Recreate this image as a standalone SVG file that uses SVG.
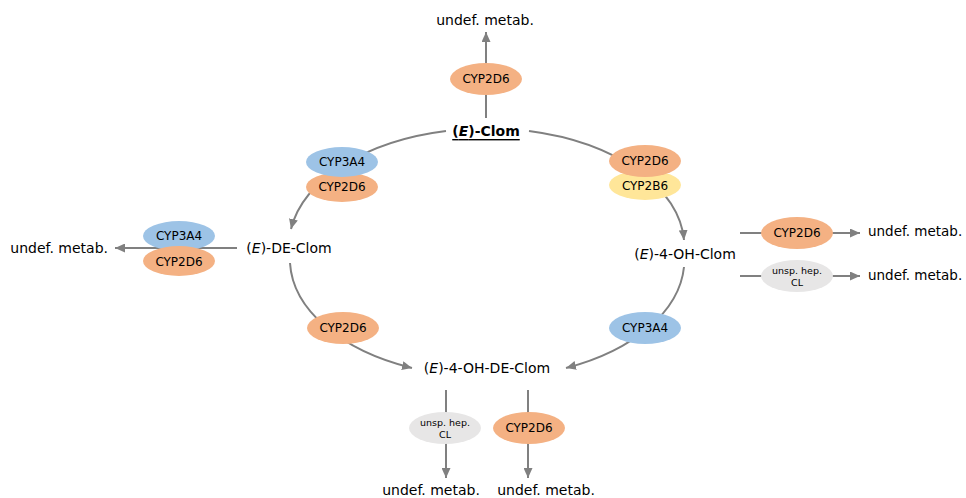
<svg xmlns="http://www.w3.org/2000/svg" width="966" height="498" viewBox="0 0 966 498">
<defs>
<marker id="ah" markerUnits="userSpaceOnUse" markerWidth="11" markerHeight="9" refX="10" refY="4.5" orient="auto">
<path d="M0,0 L10,4.5 L0,9 z" fill="#808080"/>
</marker>
<style>
.ln{fill:none;stroke:#808080;stroke-width:2;marker-end:url(#ah)}
.t{font-family:"DejaVu Sans",Verdana,sans-serif;font-size:14px;fill:#000;dominant-baseline:central}
.tr{font-size:13.5px}
.e{font-family:"DejaVu Sans",Verdana,sans-serif;font-size:12px;fill:#000;text-anchor:middle;dominant-baseline:central}
.s{font-family:"DejaVu Sans",Verdana,sans-serif;font-size:9.5px;fill:#000;text-anchor:middle;dominant-baseline:central}
.or{fill:#F4B183}.bl{fill:#9DC3E6}.ye{fill:#FFE699}.gr{fill:#E7E6E6}
</style>
</defs>
<rect width="966" height="498" fill="#fff"/>
<g id="connectors">
<path class="ln" d="M486 118 L486 32"/>
<path class="ln" d="M446 131 A197 118 0 0 0 291 229"/>
<path class="ln" d="M529 131 A197 118 0 0 1 684 240"/>
<path class="ln" d="M290 263 A197 118 0 0 0 412 368"/>
<path class="ln" d="M684 267 A197 118 0 0 1 566 368"/>
<path class="ln" d="M237 248 L115 248"/>
<path class="ln" d="M740 233 L860 233"/>
<path class="ln" d="M740 276 L860 276"/>
<path class="ln" d="M446 390 L446 478"/>
<path class="ln" d="M528 390 L528 478"/>
</g>
<g id="n-clom"><text class="t" x="486" y="131" text-anchor="middle" font-weight="bold" text-decoration="underline">(<tspan font-style="italic">E</tspan>)-Clom</text></g>
<g id="n-declom"><text class="t" x="289" y="248" text-anchor="middle">(<tspan font-style="italic">E</tspan>)-DE-Clom</text></g>
<g id="n-ohclom"><text class="t" x="685" y="254" text-anchor="middle">(<tspan font-style="italic">E</tspan>)-4-OH-Clom</text></g>
<g id="n-ohdeclom"><text class="t" x="487" y="368" text-anchor="middle">(<tspan font-style="italic">E</tspan>)-4-OH-DE-Clom</text></g>
<g id="n-undef-top"><text class="t" x="485" y="20" text-anchor="middle">undef. metab.</text></g>
<g id="n-undef-left"><text class="t" x="108" y="248" text-anchor="end">undef. metab.</text></g>
<g id="n-undef-r1"><text class="t tr" x="868" y="231">undef. metab.</text></g>
<g id="n-undef-r2"><text class="t tr" x="868" y="275">undef. metab.</text></g>
<g id="n-undef-b1"><text class="t" x="431" y="490" text-anchor="middle">undef. metab.</text></g>
<g id="n-undef-b2"><text class="t" x="546" y="490" text-anchor="middle">undef. metab.</text></g>
<g id="e-top"><ellipse class="or" cx="486" cy="79" rx="36" ry="16"/><text class="e" x="486" y="79">CYP2D6</text></g>
<g id="e-tl2"><ellipse class="or" cx="342" cy="187" rx="36" ry="15"/><text class="e" x="342" y="187">CYP2D6</text></g>
<g id="e-tl1"><ellipse class="bl" cx="342" cy="162" rx="36" ry="15"/><text class="e" x="342" y="162">CYP3A4</text></g>
<g id="e-tr2"><ellipse class="ye" cx="645" cy="185" rx="36" ry="15"/><text class="e" x="645" y="186">CYP2B6</text></g>
<g id="e-tr1"><ellipse class="or" cx="645" cy="161" rx="36" ry="16"/><text class="e" x="645" y="161">CYP2D6</text></g>
<g id="e-l1"><ellipse class="bl" cx="179" cy="236" rx="36" ry="15"/><text class="e" x="179" y="236">CYP3A4</text></g>
<g id="e-l2"><ellipse class="or" cx="179" cy="261" rx="36" ry="15"/><text class="e" x="179" y="262">CYP2D6</text></g>
<g id="e-bl"><ellipse class="or" cx="343" cy="328" rx="36" ry="16"/><text class="e" x="343" y="328">CYP2D6</text></g>
<g id="e-br"><ellipse class="bl" cx="645" cy="328" rx="36" ry="16"/><text class="e" x="645" y="328">CYP3A4</text></g>
<g id="e-r1"><ellipse class="or" cx="797" cy="233" rx="36" ry="16"/><text class="e" x="797" y="233">CYP2D6</text></g>
<g id="e-r2"><ellipse class="gr" cx="797" cy="276" rx="36" ry="16"/><text class="s" x="797" y="270">unsp. hep.</text><text class="s" x="797" y="282">CL</text></g>
<g id="e-b1"><ellipse class="gr" cx="445" cy="428" rx="36" ry="16"/><text class="s" x="445" y="422">unsp. hep.</text><text class="s" x="445" y="434">CL</text></g>
<g id="e-b2"><ellipse class="or" cx="529" cy="428" rx="36" ry="16"/><text class="e" x="529" y="428">CYP2D6</text></g>
</svg>
